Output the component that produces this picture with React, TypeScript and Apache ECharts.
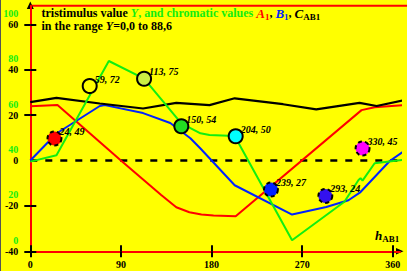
import React, { useEffect, useRef } from "react";
import * as echarts from "echarts";

// hue angle h_AB1 (degrees) and values
const hueRed = [0, 27, 90, 130, 145, 158, 170, 182, 204, 329, 342, 374];
const valuesA1 = [23.9, 24.4, 0, -15.2, -20.6, -22.8, -23.8, -24.2, -24.6, 22.2, 23.5, 24.5];

const hueBlue = [0, 26, 69, 74, 112, 139, 159, 169, 203, 260, 294, 316, 328, 357, 374];
const valuesB1 = [0, 11.9, 24.0, 24.4, 20.9, 16.5, 9.8, 5.3, -10.9, -23.8, -20.5, -17.5, -13.9, -0.2, 5.0];

const hueBlack = [0, 26, 69, 112, 145, 178, 203, 251, 284, 327, 344, 374];
const valuesCAB1 = [25.7, 27.6, 25.1, 22.9, 25.4, 24.4, 27.4, 24.8, 22.5, 25.4, 24.0, 26.9];

const hueGreen = [0, 26, 78, 113, 150, 169, 178, 203, 260, 312, 326, 328, 330, 342, 374];
const valuesY = [34.7, 37.5, 79.1, 71.3, 51.6, 47.2, 46.5, 46.0, 0, 17, 26.6, 27.4, 26.3, 34.0, 35.7];

const pointHue = [24, 59, 113, 150, 204, 239, 293, 330];
const pointChroma = [49, 72, 75, 54, 50, 27, 24, 45];
const pointLevel = [9.7, 32.8, 36.0, 15.1, 10.7, -12.8, -15.6, 5.3];
const pointColors = ["#ff0000", "#ffff00", "#ccee44", "#22dd22", "#00ffff", "#0022ff", "#3311ee", "#ff00ff"];
const pointDashed = [true, false, false, false, false, true, true, true];

const xTicks = [0, 90, 180, 270, 360];
const yTicks = [-40, -20, 20, 40, 60];
const yLabels = [-40, -20, 0, 20, 40, 60];
const greenLabels = [0, 20, 40, 60, 80, 100];

const SERIF = "'Liberation Serif', 'Times New Roman', serif";
const GREEN = "#11ee11";

const zip = (xs: number[], ys: number[]) => xs.map((x, i) => [x, ys[i]]);

export default function App() {
  const ref = useRef<HTMLDivElement>(null);
  useEffect(() => {
    if (!ref.current) return;
    const chart = echarts.init(ref.current, undefined, { renderer: "svg" });
    const xMin = 0, xMax = 367.2;
    const yMin = -40, yMax = 68.2;
    const gMin = -4.85, gMax = 103.5;
    const baseX = {
      type: "value", min: xMin, max: xMax, position: "bottom",
      splitLine: { show: false },
    };
    const baseY = {
      type: "value", min: yMin, max: yMax, position: "left",
      splitLine: { show: false },
    };
    const labelFont = { fontFamily: SERIF, fontWeight: "bold", fontSize: 10, color: "#000" };
    const option: any = {
      animation: false,
      backgroundColor: "#ffff00",
      grid: { left: 30.3, right: 7, top: 5.7, bottom: 19.7, containLabel: false },
      xAxis: [
        {
          ...baseX,
          axisLine: { show: true, onZero: false, lineStyle: { color: "#ff0000", width: 2 } },
          axisTick: { show: true, length: 6, customValues: xTicks, lineStyle: { color: "#000", width: 2 } },
          axisLabel: { show: true, customValues: xTicks, margin: 8, ...labelFont },
        },
        {
          ...baseX,
          axisLine: { show: false, onZero: false },
          axisTick: { show: true, inside: true, length: 6, customValues: xTicks, lineStyle: { color: "#000", width: 2 } },
          axisLabel: { show: false },
        },
      ],
      yAxis: [
        {
          ...baseY,
          axisLine: { show: true, onZero: false, lineStyle: { color: "#ff0000", width: 2 } },
          axisTick: { show: true, length: 6, customValues: yTicks, lineStyle: { color: "#000", width: 2 } },
          axisLabel: { show: true, customValues: yLabels, margin: 12, padding: [8, 0, 0, 0], ...labelFont },
        },
        {
          type: "value", min: gMin, max: gMax, position: "left",
          splitLine: { show: false },
          axisLine: { show: false, onZero: false },
          axisTick: { show: false },
          axisLabel: { show: true, customValues: greenLabels, margin: 12, ...labelFont, color: GREEN },
        },
        {
          ...baseY,
          axisLine: { show: false, onZero: false },
          axisTick: { show: true, inside: true, length: 6, customValues: yTicks, lineStyle: { color: "#000", width: 2 } },
          axisLabel: { show: false },
        },
      ],
      series: [
        {
          type: "line", data: [[0, 0], [374, 0]], symbol: "none", clip: false, silent: true,
          lineStyle: { color: "#000", width: 2.5, type: [7, 8] }, z: 1,
        },
        {
          type: "line", name: "A1", data: zip(hueRed, valuesA1), symbol: "none", clip: false,
          lineStyle: { color: "#ff0000", width: 2 }, z: 2,
        },
        {
          type: "line", name: "B1", data: zip(hueBlue, valuesB1), symbol: "none", clip: false,
          lineStyle: { color: "#0022ff", width: 2 }, z: 2,
        },
        {
          type: "line", name: "CAB1", data: zip(hueBlack, valuesCAB1), symbol: "none", clip: false,
          lineStyle: { color: "#000", width: 2.2 }, z: 2,
        },
        {
          type: "line", name: "Y", yAxisIndex: 1, data: zip(hueGreen, valuesY), symbol: "none", clip: false,
          lineStyle: { color: GREEN, width: 2 }, z: 3,
        },
        {
          type: "scatter", symbol: "circle", symbolSize: 14, clip: false, z: 10,
          data: pointHue.map((h, i) => ({
            value: [h, pointLevel[i]],
            itemStyle: {
              color: pointColors[i], opacity: 1, borderColor: "#000", borderWidth: 2,
              borderType: pointDashed[i] ? [4, 3] : "solid",
            },
          })),
          label: {
            show: true, position: [13, 1], align: "left", verticalAlign: "middle",
            fontFamily: SERIF, fontStyle: "italic", fontWeight: "bold", fontSize: 10, color: "#000",
            formatter: (p: any) => `${pointHue[p.dataIndex]}, ${pointChroma[p.dataIndex]}`,
          },
        },
      ],
      graphic: [
        { type: "line", shape: { x1: 0.5, y1: 0, x2: 0.5, y2: 271 }, style: { stroke: "#555", lineWidth: 1 } },
        { type: "line", shape: { x1: 30, y1: 5.7, x2: 407, y2: 5.7 }, style: { stroke: "#ff0000", lineWidth: 2 } },
        { type: "polygon", shape: { points: [[26.8, 9], [30.3, 1.5], [33.8, 9]] }, style: { fill: "#000" } },
        { type: "polygon", shape: { points: [[396, 248], [403.5, 251.3], [396, 254.6]] }, style: { fill: "#000" } },
        {
          type: "text", x: 41.5, y: 13,
          style: {
            text: "{k|tristimulus value }{gi|Y}{g|, and chromatic values }{ri|A}{rs|1}{k|, }{bi|B}{bs|1}{k|, }{ki|C}{ks|AB1}",
            verticalAlign: "middle",
            font: `bold 12px ${SERIF}`,
            rich: {
              k: { fontFamily: SERIF, fontWeight: "bold", fontSize: 12, fill: "#000" },
              g: { fontFamily: SERIF, fontWeight: "bold", fontSize: 12, fill: GREEN },
              gi: { fontFamily: SERIF, fontWeight: "bold", fontStyle: "italic", fontSize: 12, fill: GREEN },
              ri: { fontFamily: SERIF, fontWeight: "bold", fontStyle: "italic", fontSize: 13, fill: "#ff0000" },
              rs: { fontFamily: SERIF, fontWeight: "bold", fontSize: 9, fill: "#ff0000", padding: [8, 0, 0, 0] },
              bi: { fontFamily: SERIF, fontWeight: "bold", fontStyle: "italic", fontSize: 13, fill: "#0022ff" },
              bs: { fontFamily: SERIF, fontWeight: "bold", fontSize: 9, fill: "#0022ff", padding: [8, 0, 0, 0] },
              ki: { fontFamily: SERIF, fontWeight: "bold", fontStyle: "italic", fontSize: 13, fill: "#000" },
              ks: { fontFamily: SERIF, fontWeight: "bold", fontSize: 9, fill: "#000", padding: [8, 0, 0, 0] },
            },
          },
        },
        {
          type: "text", x: 41.5, y: 26,
          style: {
            text: "{k|in the range }{ki|Y}{k|=0,0 to 88,6}",
            verticalAlign: "middle",
            font: `bold 12px ${SERIF}`,
            rich: {
              k: { fontFamily: SERIF, fontWeight: "bold", fontSize: 12, fill: "#000" },
              ki: { fontFamily: SERIF, fontWeight: "bold", fontStyle: "italic", fontSize: 12, fill: "#000" },
            },
          },
        },
        {
          type: "text", x: 375, y: 235,
          style: {
            text: "{hi|h}{hs|AB1}",
            verticalAlign: "middle",
            font: `bold 12px ${SERIF}`,
            rich: {
              hi: { fontFamily: SERIF, fontWeight: "bold", fontStyle: "italic", fontSize: 13, fill: "#000" },
              hs: { fontFamily: SERIF, fontWeight: "bold", fontSize: 9, fill: "#000", padding: [8, 0, 0, 0] },
            },
          },
        },
      ],
    };
    chart.setOption(option);
    return () => chart.dispose();
  }, []);
  return <div ref={ref} style={{ position: "fixed", left: 0, top: 0, width: 407, height: 271 }} />;
}
